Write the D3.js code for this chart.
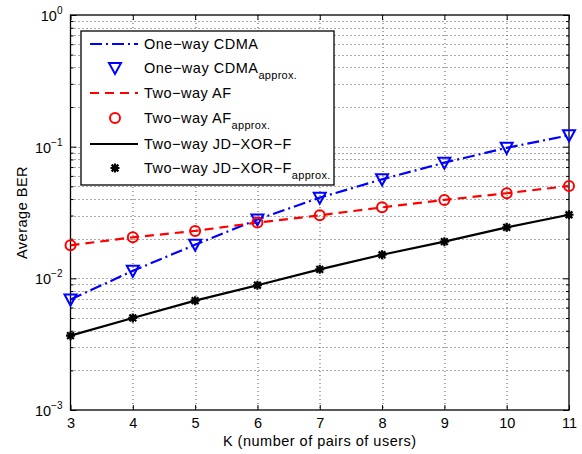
<!DOCTYPE html>
<html>
<head>
<meta charset="utf-8">
<script src="https://cdn.jsdelivr.net/npm/d3@7"></script>
<style>
  body { margin: 0; background: #fff; }
  text { font-family: "Liberation Sans", Arial, Helvetica, sans-serif; }
</style>
</head>
<body>
<div id="chart"></div>
<script>
// данные
const K = [3, 4, 5, 6, 7, 8, 9, 10, 11];
const cdma = [0.0069, 0.0114, 0.018, 0.028, 0.041, 0.0565, 0.0756, 0.098, 0.122];
const cdmaApprox = [0.0069, 0.0114, 0.018, 0.028, 0.041, 0.0565, 0.0756, 0.098, 0.122];
const af = [0.0178, 0.0205, 0.0229, 0.0265, 0.0301, 0.0346, 0.0394, 0.0443, 0.0503];
const afApprox = [0.0178, 0.0205, 0.0229, 0.0265, 0.0301, 0.0346, 0.0394, 0.0443, 0.0503];
const jd = [0.00367, 0.0050, 0.00677, 0.00886, 0.0117, 0.0151, 0.019, 0.0244, 0.0304];
const jdApprox = [0.00367, 0.0050, 0.00677, 0.00886, 0.0117, 0.0151, 0.019, 0.0244, 0.0304];
const yDecades = [-3, -2, -1, 0];

const width = 582, height = 454;
const margin = { left: 70.5, top: 15, right: 13, bottom: 44 };
const W = width - margin.left - margin.right;
const H = height - margin.top - margin.bottom;

const svg = d3.select("#chart").append("svg")
  .attr("width", width).attr("height", height);

const g = svg.append("g").attr("transform", `translate(${margin.left},${margin.top})`);

const x = d3.scaleLinear().domain([3, 11]).range([0, W]);
const y = d3.scaleLog().domain([1e-3, 1]).range([H, 0]);

// сетка
const minorVals = [];
yDecades.slice(0, -1).forEach(e => {
  for (let m = 1; m <= 9; m++) minorVals.push(m * Math.pow(10, e));
});
g.append("g").selectAll("line").data(minorVals.filter(v => v > 1e-3)).join("line")
  .attr("x1", 0).attr("x2", W)
  .attr("y1", d => Math.round(y(d)) + 0.5).attr("y2", d => Math.round(y(d)) + 0.5)
  .attr("stroke", "#555").attr("stroke-width", 1).attr("stroke-dasharray", "1,3");
g.append("g").selectAll("line").data(K.slice(1, -1)).join("line")
  .attr("x1", d => Math.round(x(d)) + 0.5).attr("x2", d => Math.round(x(d)) + 0.5)
  .attr("y1", 0).attr("y2", H)
  .attr("stroke", "#555").attr("stroke-width", 1).attr("stroke-dasharray", "1,3");

// оси
const xAxisB = d3.axisBottom(x).tickValues(K).tickSizeInner(-5).tickSizeOuter(0).tickPadding(8).tickFormat(d3.format("d"));
const gx = g.append("g").attr("transform", `translate(0,${H})`).call(xAxisB);
gx.select(".domain").remove();
gx.selectAll("text").attr("font-size", 14.5).attr("fill", "#000")
  .attr("font-family", "Liberation Sans, Arial, sans-serif");
const gxt = g.append("g").call(d3.axisTop(x).tickValues(K).tickSizeInner(-5).tickSizeOuter(0).tickFormat(""));
gxt.select(".domain").remove();

const yAxisL = d3.axisLeft(y).tickValues(minorVals.concat([1])).tickSizeInner(-3).tickSizeOuter(0).tickFormat("");
const gyl = g.append("g").call(yAxisL);
gyl.select(".domain").remove();
const gyr = g.append("g").attr("transform", `translate(${W},0)`)
  .call(d3.axisRight(y).tickValues(minorVals.concat([1])).tickSizeInner(-3).tickSizeOuter(0).tickFormat(""));
gyr.select(".domain").remove();
// длинные метки на декадах
[gyl, gyr].forEach((ax, i) => {
  ax.selectAll(".tick line").attr("x2", d => {
    const isMajor = Math.abs(Math.log10(d) - Math.round(Math.log10(d))) < 1e-9;
    return (isMajor ? 6 : 3) * (i === 0 ? 1 : -1);
  });
});
g.selectAll(".tick line").attr("stroke", "#000");

// подписи по y: 10^n
const yLab = g.append("g");
yDecades.forEach(e => {
  const t = yLab.append("text")
    .attr("x", -8).attr("y", y(Math.pow(10, e)) + 6)
    .attr("text-anchor", "end").attr("font-size", 14.5).attr("fill", "#000");
  t.append("tspan").text("10");
  t.append("tspan").attr("dy", -7).attr("font-size", 10).text(e === 0 ? "0" : "\u2212" + (-e));
});

// рамка
g.append("rect").attr("width", W).attr("height", H)
  .attr("fill", "none").attr("stroke", "#000").attr("stroke-width", 1.3);

// серии
const line = d3.line().x((d, i) => x(K[i])).y(d => y(d));
const series = [
  { v: cdma, color: "#0000ff", dash: "12,4,2,4" },
  { v: af, color: "#ff0000", dash: "9,6" },
  { v: jd, color: "#000000", dash: null }
];
series.forEach(s => {
  g.append("path").datum(s.v).attr("d", line)
    .attr("fill", "none").attr("stroke", s.color).attr("stroke-width", 2.2)
    .attr("stroke-dasharray", s.dash);
});

// маркеры
function triangle(sel, color) {
  sel.append("path").attr("d", "M-6,-5L6,-5L0,6Z")
    .attr("fill", "none").attr("stroke", color).attr("stroke-width", 2);
}
function circle(sel, color) {
  sel.append("circle").attr("r", 5)
    .attr("fill", "none").attr("stroke", color).attr("stroke-width", 2);
}
function star(sel, color) {
  const r = 4.5;
  sel.append("path")
    .attr("d", `M${-r},0L${r},0M0,${-r}L0,${r}M${-r * 0.75},${-r * 0.75}L${r * 0.75},${r * 0.75}M${-r * 0.75},${r * 0.75}L${r * 0.75},${-r * 0.75}`)
    .attr("stroke", color).attr("stroke-width", 2.2);
}
const markerSets = [
  { v: cdmaApprox, draw: triangle, color: "#0000ff" },
  { v: afApprox, draw: circle, color: "#ff0000" },
  { v: jdApprox, draw: star, color: "#000000" }
];
markerSets.forEach(m => {
  g.append("g").selectAll("g").data(m.v).join("g")
    .attr("transform", (d, i) => `translate(${x(K[i])},${y(d)})`)
    .each(function () { m.draw(d3.select(this), m.color); });
});

// легенда
const lg = svg.append("g").attr("transform", "translate(81,31)");
lg.append("rect").attr("width", 253).attr("height", 154)
  .attr("fill", "#fff").attr("stroke", "#000").attr("stroke-width", 1.3);
const legendItems = [
  { label: "One\u2212way CDMA", sub: null, y: 13, kind: "line", color: "#0000ff", dash: "12,4,2,4" },
  { label: "One\u2212way CDMA", sub: "approx.", y: 37, kind: "mark", draw: triangle, color: "#0000ff" },
  { label: "Two\u2212way AF", sub: null, y: 62, kind: "line", color: "#ff0000", dash: "9,6" },
  { label: "Two\u2212way AF", sub: "approx.", y: 87, kind: "mark", draw: circle, color: "#ff0000" },
  { label: "Two\u2212way JD\u2212XOR\u2212F", sub: null, y: 113, kind: "line", color: "#000000", dash: null },
  { label: "Two\u2212way JD\u2212XOR\u2212F", sub: "approx.", y: 137, kind: "mark", draw: star, color: "#000000" }
];
legendItems.forEach(it => {
  const row = lg.append("g").attr("transform", `translate(0,${it.y})`);
  if (it.kind === "line") {
    row.append("line").attr("x1", 9).attr("x2", 57)
      .attr("stroke", it.color).attr("stroke-width", 2.2).attr("stroke-dasharray", it.dash);
  } else {
    it.draw(row.append("g").attr("transform", "translate(34,0)"), it.color);
  }
  const t = row.append("text").attr("x", 63).attr("y", 5)
    .attr("font-size", 14.5).attr("letter-spacing", 0.5).attr("fill", "#000");
  t.append("tspan").text(it.label);
  if (it.sub) t.append("tspan").attr("dy", 6).attr("font-size", 11).attr("letter-spacing", 0.3).text(it.sub);
});

// подписи осей
svg.append("text")
  .attr("x", margin.left + W / 2).attr("y", 446)
  .attr("text-anchor", "middle").attr("font-size", 14.5).attr("letter-spacing", 0.5).attr("fill", "#000")
  .text("K (number of pairs of users)");
svg.append("text")
  .attr("transform", `translate(27,${margin.top + H / 2}) rotate(-90)`)
  .attr("text-anchor", "middle").attr("font-size", 14.5).attr("letter-spacing", 0.5).attr("fill", "#000")
  .text("Average BER");
</script>
</body>
</html>
